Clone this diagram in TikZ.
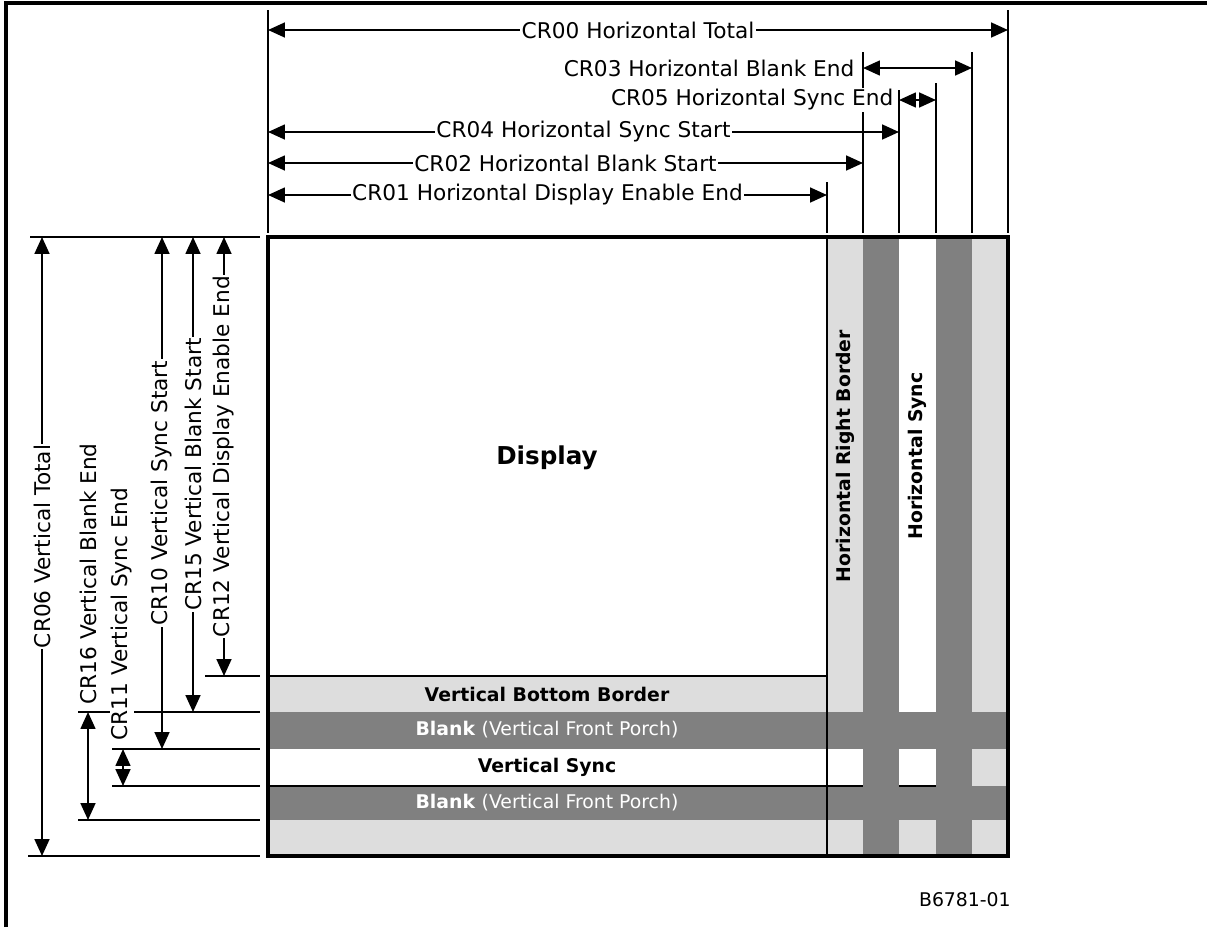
\documentclass[tikz,border=0pt]{standalone}
\usepackage{fontspec}
\setmainfont{DejaVu Sans}
\usetikzlibrary{arrows.meta}
\definecolor{lightband}{HTML}{DDDDDD}
\definecolor{darkband}{HTML}{808080}
\tikzset{
	font=\fontsize{15.4}{18}\selectfont,
	>={Triangle[length=12pt,width=10.5pt]},
	dimline/.style={line width=1.5pt},
	extline/.style={line width=1.3pt},
	dimlabel/.style={fill=white, inner sep=1pt},
	bandlabel/.style={font=\fontsize{13.4}{16}\selectfont\bfseries}
}
\begin{document}
\begin{tikzpicture}[x=0.025cm, y=-0.025cm]  % one unit = one pixel of the sheet
\useasboundingbox (0,0) rectangle (1207,927);

% frame
\draw[line width=2.4pt] (6,927) -- (6,3) -- (1207,3);

% bands of the frame
\fill[lightband] (268,237) rectangle (1008,856);
\fill[white] (268,237) rectangle (827,676);
\fill[white] (899,237) rectangle (936,712);
\fill[white] (268,749) rectangle (972,786);
\fill[darkband] (863,237) rectangle (899,856);
\fill[darkband] (936,237) rectangle (972,856);
\fill[darkband] (268,712) rectangle (1008,749);
\fill[darkband] (268,786) rectangle (1008,820);

% inner borders
\draw[line width=1.2pt] (827,237) -- (827,856);
\draw[line width=1.2pt] (268,676) -- (827,676);
\draw[line width=0.9pt] (268,786) -- (863,786);
\draw[line width=0.9pt] (899,786) -- (936,786);
\draw[line width=2.4pt] (268,237) rectangle (1008,856);

% band names
\node[font=\fontsize{17.5}{20}\selectfont\bfseries] (display) at (547,458) {Display};
\node[bandlabel] (vbborder) at (547,694) {Vertical Bottom Border};
\node[bandlabel, text=white] (vfporch) at (547,730) {Blank \mdseries(Vertical Front Porch)};
\node[bandlabel] (vsync) at (547,767) {Vertical Sync};
\node[bandlabel, text=white] (vbporch) at (547,803) {Blank \mdseries(Vertical Front Porch)};
\node[bandlabel, rotate=90] (hrborder) at (845,456) {Horizontal Right Border};
\node[bandlabel, rotate=90] (hsync) at (917.5,456) {Horizontal Sync};

% extension lines (top)
\draw[extline] (268,10) -- (268,233);
\draw[extline] (1008,10) -- (1008,233);
\draw[extline] (863,52) -- (863,233);
\draw[extline] (972,52) -- (972,233);
\draw[extline] (936,83) -- (936,233);
\draw[extline] (899,90) -- (899,233);
\draw[extline] (827,182) -- (827,233);

% extension lines (left)
\draw[extline] (30,237) -- (260,237);
\draw[extline] (205,676) -- (260,676);
\draw[extline] (78,712) -- (260,712);
\draw[extline] (112,749) -- (260,749);
\draw[extline] (112,786) -- (260,786);
\draw[extline] (78,820) -- (260,820);
\draw[extline] (28,856) -- (260,856);

% horizontal registers
\draw[dimline, <->] (268,30) -- (1008,30)
node[dimlabel, midway] (cr00) {CR00 Horizontal Total};
\draw[dimline, <->] (863,68) -- (972,68);
\node[dimlabel, anchor=east] (cr03) at (856,68) {CR03 Horizontal Blank End};
\draw[dimline, <->] (899,100) -- (936,100);
\node[dimlabel, anchor=east] (cr05) at (895,100) {CR05 Horizontal Sync End};
\draw[dimline, <->] (268,132) -- (899,132)
node[dimlabel, midway] (cr04) {CR04 Horizontal Sync Start};
\draw[dimline, <->] (268,163) -- (863,163)
node[dimlabel, midway] (cr02) {CR02 Horizontal Blank Start};
\draw[dimline, <->] (268,195) -- (827,195)
node[dimlabel, midway] (cr01) {CR01 Horizontal Display Enable End};

% vertical registers
\draw[dimline, <->] (42,237) -- (42,856)
node[dimlabel, midway, rotate=90] (cr06) {CR06 Vertical Total};
\draw[dimline, <->] (88,712) -- (88,820);
\node[dimlabel, rotate=90, anchor=west] (cr16) at (88,706) {CR16 Vertical Blank End};
\draw[dimline, <->] (123,749) -- (123,786);
\node[dimlabel, rotate=90, anchor=west] (cr11) at (122,742) {CR11 Vertical Sync End};
\draw[dimline, <->] (162,237) -- (162,749)
node[dimlabel, midway, rotate=90] (cr10) {CR10 Vertical Sync Start};
\draw[dimline, <->] (193,237) -- (193,712)
node[dimlabel, midway, rotate=90] (cr15) {CR15 Vertical Blank Start};
\draw[dimline, <->] (224,237) -- (224,676)
node[dimlabel, midway, rotate=90] (cr12) {CR12 Vertical Display Enable End};

% figure number
\node[font=\fontsize{13.4}{16}\selectfont, anchor=east, inner sep=0pt] (fignum) at (1011,900) {B6781-01};

\end{tikzpicture}
\end{document}
